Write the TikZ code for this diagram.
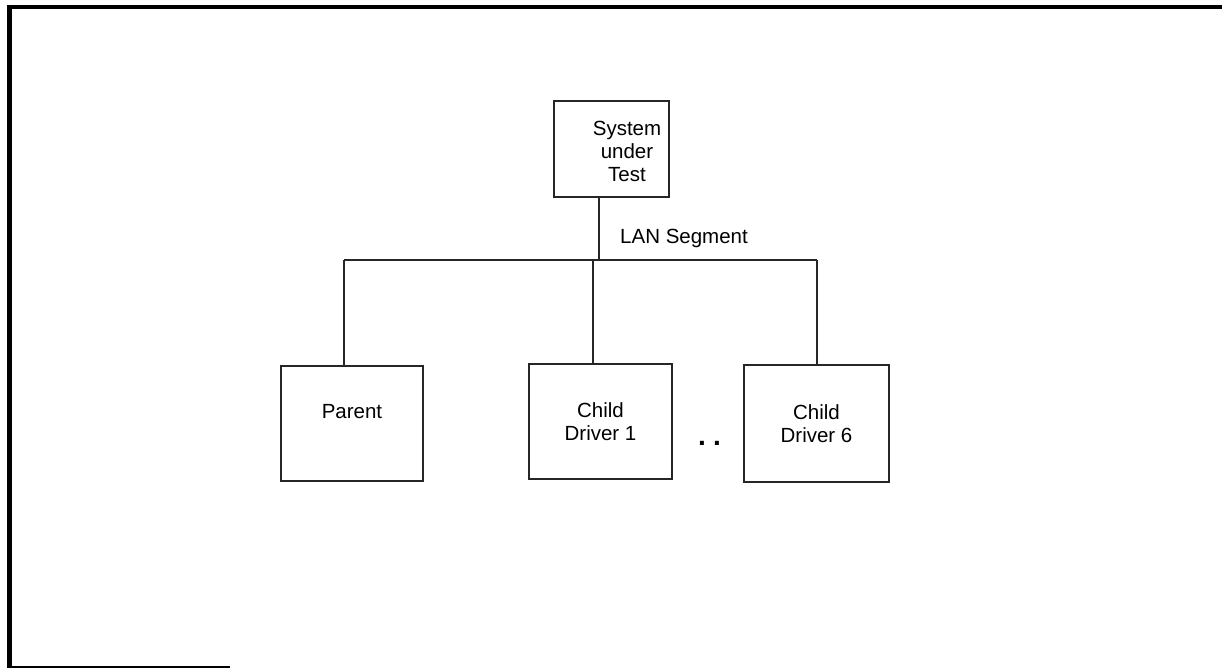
\documentclass[tikz,border=0pt]{standalone}
\usepackage{fontspec}
\setmainfont{Liberation Sans}
\begin{document}
\begin{tikzpicture}[x=1pt,y=-1pt,
  box/.style={draw=black!85, line width=1.1pt, rectangle, inner sep=0pt},
  wire/.style={draw=black!85, line width=1.1pt},
  txt/.style={font=\fontsize{20.5}{23}\selectfont, align=center, inner sep=0pt},
  frame/.style={draw=black}]
\useasboundingbox (0,0) rectangle (1222,668);
% frame
\draw[frame, line width=4pt] (7,7) -- (1222,7);
\draw[frame, line width=5pt] (9.5,5) -- (9.5,668);
\draw[frame, line width=1.6pt] (7,667) -- (230,667);
% boxes
\node[box, minimum width=115pt, minimum height=96pt] (sut) at (611.5,149) {};
\node[txt] (suttext) at (627,151) {System\\under\\Test};
\node[box, minimum width=142pt, minimum height=115pt] (parent) at (352,423.5) {};
\node[txt] (parenttext) at (352,412) {Parent};
\node[box, txt, minimum width=143pt, minimum height=115pt] (child1) at (600.5,421.5) {Child\\Driver 1};
\node[box, txt, minimum width=145pt, minimum height=117pt] (child6) at (816.5,423.5) {Child\\Driver 6};
\node[txt, font=\fontsize{28}{28}\selectfont\bfseries] (dots) at (709.5,443) {.\hspace{7pt}.};
% bus
\coordinate (b1) at (344,260);
\coordinate (bs) at (599,260);
\coordinate (bc) at (593,260);
\coordinate (b6) at (817,260);
\node[txt, anchor=west] (lan) at (620,238) {LAN Segment};
\draw[wire] (sut.south -| bs) -- (bs);
\draw[wire] (b1) -- (b6);
\draw[wire] (b1) -- (b1 |- parent.north);
\draw[wire] (bc) -- (bc |- child1.north);
\draw[wire] (b6) -- (b6 |- child6.north);
\end{tikzpicture}
\end{document}
